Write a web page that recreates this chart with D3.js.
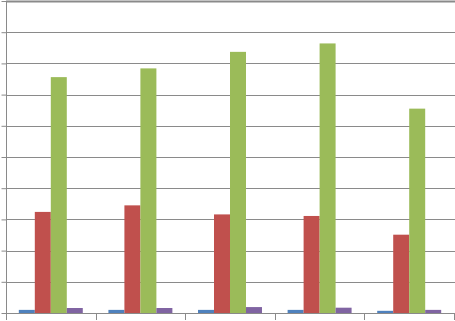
<!DOCTYPE html>
<html>
<head>
<meta charset="utf-8">
<script src="https://cdn.jsdelivr.net/npm/d3@7"></script>
<style>
  html, body { margin: 0; padding: 0; background: #fff; }
  svg { display: block; }
</style>
</head>
<body>
<div class="draw-area"></div>
<script>
// Data (no labels visible, scale 0..10 per gridline)
const categories = ["1", "2", "3", "4", "5"];
const seriesNames = ["s1", "s2", "s3", "s4"];
const blueValues   = [0.10, 0.10, 0.10, 0.10, 0.07];
const redValues    = [3.24, 3.45, 3.16, 3.11, 2.51];
const greenValues  = [7.56, 7.84, 8.37, 8.64, 6.55];
const purpleValues = [0.16, 0.16, 0.19, 0.17, 0.10];
const yTicks = [0, 1, 2, 3, 4, 5, 6, 7, 8, 9, 10];

const seriesColors = ["#4F81BD", "#C0504D", "#9BBB59", "#8064A2"];
const allSeries = [blueValues, redValues, greenValues, purpleValues];

const width = 455, height = 321;
const plotLeft = 6, plotRight = 454, plotTop = 1, plotBottom = 313;

const svg = d3.select(".draw-area")
    .append("svg")
    .attr("width", width)
    .attr("height", height);

// Scales
const x0 = d3.scaleBand().domain(categories).range([plotLeft, plotRight]);
const x1 = d3.scaleBand().domain(seriesNames)
    .range([x0.bandwidth() * 0.143, x0.bandwidth() * 0.857]);
const y = d3.scaleLinear().domain([0, 10]).range([plotBottom, plotTop]);

// Gridlines
svg.append("g")
    .selectAll("line")
    .data(yTicks.slice(1))
    .join("line")
    .attr("x1", plotLeft).attr("x2", width)
    .attr("y1", d => Math.round(y(d)) + 0.5)
    .attr("y2", d => Math.round(y(d)) + 0.5)
    .attr("stroke", "#8a8a8a")
    .attr("stroke-width", d => d === 10 ? 2 : 1);

// Left axis with ticks pointing left
const yAxis = svg.append("g")
    .attr("transform", `translate(${plotLeft + 0.5},0)`)
    .call(d3.axisLeft(y).tickValues(yTicks).tickSize(5).tickFormat(""));
yAxis.select(".domain").attr("stroke", "#8a8a8a").attr("d", `M0,${plotTop}V${plotBottom}`);
yAxis.selectAll(".tick line").attr("stroke", "#8a8a8a");

// Bars
const groups = svg.append("g")
    .selectAll("g")
    .data(categories)
    .join("g")
    .attr("transform", d => `translate(${x0(d)},0)`);

groups.selectAll("rect")
    .data((d, i) => seriesNames.map((s, j) => ({ s, v: allSeries[j][i], c: seriesColors[j] })))
    .join("rect")
    .attr("x", d => x1(d.s))
    .attr("width", x1.bandwidth())
    .attr("y", d => y(d.v))
    .attr("height", d => y(0) - y(d.v))
    .attr("fill", d => d.c);

// Bottom axis with category boundary ticks
const bottomTicks = categories.map(c => x0(c)).concat([plotRight]);
svg.append("line")
    .attr("x1", plotLeft).attr("x2", plotRight)
    .attr("y1", plotBottom + 0.5).attr("y2", plotBottom + 0.5)
    .attr("stroke", "#8a8a8a");
svg.append("g")
    .selectAll("line")
    .data(bottomTicks)
    .join("line")
    .attr("x1", d => Math.round(d) + 0.5).attr("x2", d => Math.round(d) + 0.5)
    .attr("y1", plotBottom).attr("y2", plotBottom + 7)
    .attr("stroke", "#8a8a8a");
</script>
</body>
</html>
